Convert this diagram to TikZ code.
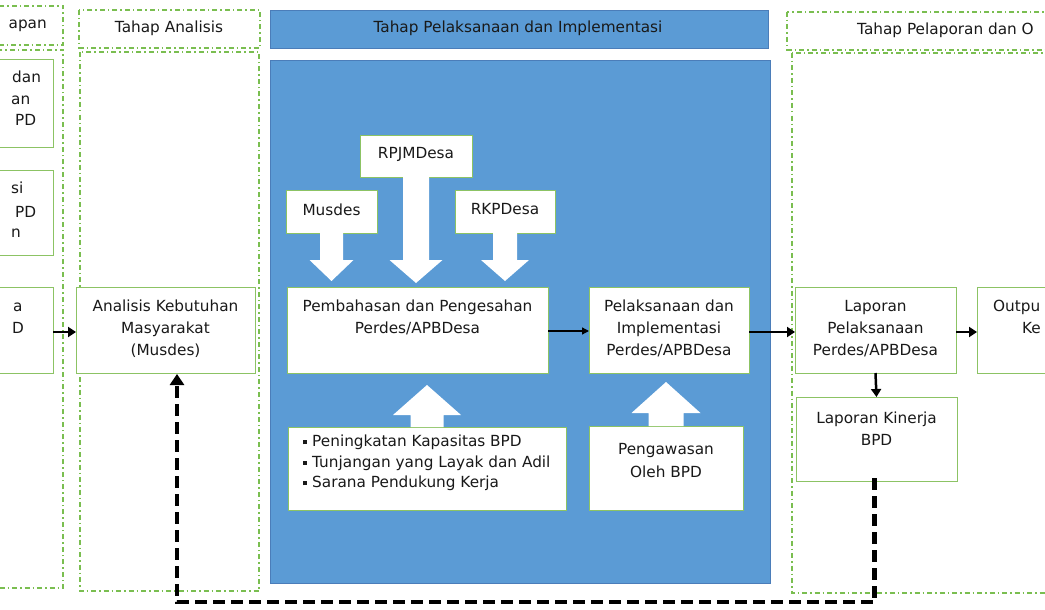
\documentclass[tikz,border=0pt]{standalone}
\usepackage{fontspec}
\setmainfont{DejaVu Sans}
\usetikzlibrary{arrows.meta,calc}
\definecolor{phasegreen}{RGB}{122,190,80}
\definecolor{boxgreen}{RGB}{140,195,100}
\definecolor{bluefill}{RGB}{91,155,213}
\definecolor{blueedge}{RGB}{75,125,185}
\newcommand\sqb{\raisebox{2.5pt}{\rule{4pt}{4pt}}\hspace{5pt}}
\newcommand\barrow[7]{%
  \fill[white] let \p1=(#1), \p2=(#2) in
   ({\x1-#3pt},\y1) -- ({\x1-#3pt},{\y2+(#7)*(#6pt+#5pt)}) -- ({\x1-#4pt},{\y2+(#7)*(#6pt+#5pt)})
   -- (\x1,{\y2+(#7)*(#6pt)}) -- ({\x1+#4pt},{\y2+(#7)*(#6pt+#5pt)}) -- ({\x1+#3pt},{\y2+(#7)*(#6pt+#5pt)})
   -- ({\x1+#3pt},\y1) -- cycle;}
\tikzset{
  phase/.style={draw=phasegreen, line width=1.4pt, dash pattern=on 5pt off 3pt on 1.5pt off 3pt},
  box/.style={draw=boxgreen, fill=white, line width=1pt, inner sep=0pt, outer sep=0pt, anchor=north west},
  txt/.style={font=\fontsize{15.3}{22}\selectfont, inner sep=0pt, align=center, text=black!90},
  thick arr/.style={line width=2.5pt, -{Triangle[length=8pt,width=10pt]}},
  thin arr/.style={line width=1.3pt, -{Triangle[length=7pt,width=7pt]}},
  feedback/.style={line width=4.5pt, dash pattern=on 12pt off 6pt, -{Triangle[length=11pt,width=14pt]}}
}
\begin{document}
\begin{tikzpicture}[x=1pt,y=-1pt]
\useasboundingbox (0,0) rectangle (1045,610);
\clip (0,0) rectangle (1045,610);
\fill[white] (0,0) rectangle (1045,610);
% phase columns
\draw[phase] (-50,6) rectangle (63,45);
\draw[phase] (-50,50) rectangle (63,588);
\draw[phase] (79,10) rectangle (260,48);
\draw[phase] (80,52) rectangle (259,591);
\draw[phase] (787,12) rectangle (1100,50);
\draw[phase] (792,53) rectangle (1100,593);
\draw[fill=bluefill, draw=blueedge, line width=0.6pt] (270,10) rectangle (768,48);
\draw[fill=bluefill, draw=blueedge, line width=0.6pt] (270,60) rectangle (770,583);
% headers
\node[txt, anchor=base east] (hL) at (47,29) {apan};
\node[txt, anchor=base] (hA) at (169,33) {Tahap Analisis};
\node[txt, anchor=base] (hP) at (518,33) {Tahap Pelaksanaan dan Implementasi};
\node[txt, anchor=base west] (hR) at (857,35) {Tahap Pelaporan dan O};
% left boxes
\node[box, minimum width=113pt, minimum height=87pt] (l1) at (-60,60) {};
\node[box, minimum width=113pt, minimum height=85pt] (l2) at (-60,170) {};
\node[box, minimum width=113pt, minimum height=86pt] (l3) at (-60,287) {};
\node[txt, anchor=base west] (l1a) at (12,83) {dan};
\node[txt, anchor=base west] (l1b) at (11,104) {an};
\node[txt, anchor=base west] (l1c) at (15,125) {PD};
\node[txt, anchor=base west] (l2a) at (11,193) {si};
\node[txt, anchor=base west] (l2b) at (15,217) {PD};
\node[txt, anchor=base west] (l2c) at (11,237) {n};
\node[txt, anchor=base west] (l3a) at (13,311) {a};
\node[txt, anchor=base west] (l3b) at (12,333) {D};
% analysis
\node[box, minimum width=179pt, minimum height=86pt] (an) at (76,287) {};
\node[txt, anchor=north] (ant) at (165.5,300) {Analisis Kebutuhan\\Masyarakat\\(Musdes)};
% middle
\node[box, minimum width=91pt, minimum height=43pt] (mus) at (286,190) {};
\node[txt] (must) at ($(mus.center)+(0,-2)$) {Musdes};
\node[box, minimum width=112pt, minimum height=42pt] (rpjm) at (360,135) {};
\node[txt] (rpjmt) at ($(rpjm.center)+(0,-2)$) {RPJMDesa};
\node[box, minimum width=100pt, minimum height=43pt] (rkp) at (455,190) {};
\node[txt] (rkpt) at ($(rkp.center)+(0,-2)$) {RKPDesa};
\node[box, minimum width=261pt, minimum height=86pt] (pb) at (287,287) {};
\node[txt, anchor=north] (pbt) at (417.5,300) {Pembahasan dan Pengesahan\\Perdes/APBDesa};
\node[box, minimum width=160pt, minimum height=86pt] (pl) at (589,287) {};
\node[txt, anchor=north] (plt) at (669,300) {Pelaksanaan dan\\Implementasi\\Perdes/APBDesa};
\node[box, minimum width=278pt, minimum height=83pt] (bl) at (288,427) {};
\node[txt, anchor=north west, align=left, font=\fontsize{15.3}{20.5}\selectfont] (blt) at (303,435)
  {\sqb Peningkatan Kapasitas BPD\\\sqb Tunjangan yang Layak dan Adil\\\sqb Sarana Pendukung Kerja};
\node[box, minimum width=154pt, minimum height=84pt] (pg) at (589,426) {};
\node[txt, anchor=north, font=\fontsize{15.3}{23}\selectfont] (pgt) at (666,443) {Pengawasan\\Oleh BPD};
% block arrows
\barrow{mus.south}{pb.north}{11.5}{22}{21}{6}{1}
\barrow{rpjm.south}{pb.north}{13}{26.5}{23}{4}{1}
\barrow{rkp.south}{pb.north}{12}{24}{21}{6}{1}
\barrow{bl.north}{pb.south}{16.5}{34}{30}{12}{-1}
\barrow{pg.north}{pl.south}{17.5}{34.5}{31}{9}{-1}
% right
\node[box, minimum width=161pt, minimum height=86pt] (lp) at (795,287) {};
\node[txt, anchor=north] (lpt) at (875.5,300) {Laporan\\Pelaksanaan\\Perdes/APBDesa};
\node[box, minimum width=120pt, minimum height=86pt] (out) at (977,287) {};
\node[txt, anchor=base west] (outa) at (993,311) {Outpu};
\node[txt, anchor=base west] (outb) at (1022,333) {Ke};
\node[box, minimum width=161pt, minimum height=84pt] (lk) at (796,397) {};
\node[txt, anchor=north] (lkt) at (876.5,412) {Laporan Kinerja\\BPD};
% connectors
\draw[thick arr] ([yshift=-2pt]l3.east) -- ([yshift=-2pt]an.west);
\draw[thin arr] ([yshift=-1pt]pb.east) -- ([yshift=-1pt]pl.east -| pl.west);
\draw[thick arr] ([yshift=-2pt]pl.east) -- ([yshift=-2pt]lp.west);
\draw[thick arr] ([yshift=-2pt]lp.east) -- ([yshift=-2pt]out.west);
\draw[thick arr] (lp.south) -- (lk.north);
\coordinate (fb) at (0,602);
\draw[feedback] ([xshift=-2pt,yshift=3pt]lk.south) -- ([xshift=-2pt]lk.south |- fb) -- ([xshift=11.5pt]an.south |- fb) -- ([xshift=11.5pt,yshift=-1pt]an.south);
\end{tikzpicture}
\end{document}
